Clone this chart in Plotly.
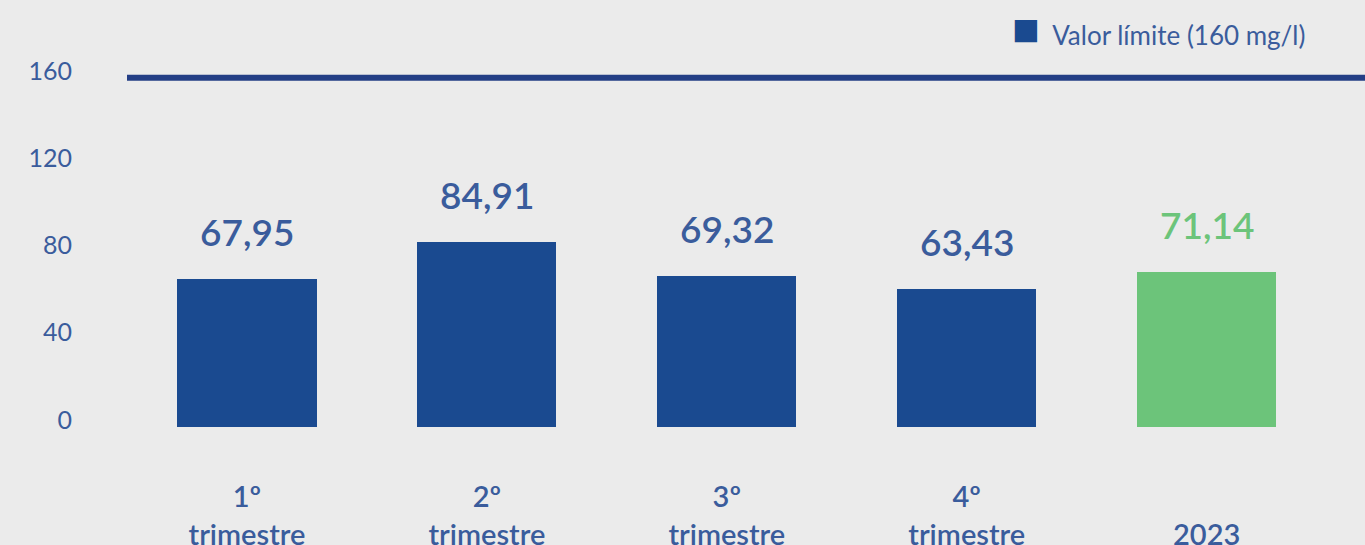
import plotly.graph_objects as go

BG = "#ebebeb"
BLUE = "#1a4a90"
LINE_BLUE = "#233e85"
GREEN = "#6cc47a"
TEXT = "#3a5c9c"

categories = ["1º<br>trimestre", "2º<br>trimestre", "3º<br>trimestre", "4º<br>trimestre", "\u00a0<br>2023"]
values = [67.95, 84.91, 69.32, 63.43, 71.14]
bar_colors = [BLUE, BLUE, BLUE, BLUE, GREEN]
limit_value = 160
limit_name = "Valor límite (160 mg/l)"
y_ticks = [0, 40, 80, 120, 160]

fig = go.Figure()
fig.add_trace(
    go.Bar(
        x=list(range(len(values))),
        y=values,
        width=0.58,
        marker=dict(color=bar_colors, line_width=0),
        showlegend=False,
        hoverinfo="skip",
    )
)
fig.add_hline(y=limit_value, line_width=6, line_color=LINE_BLUE)

# value labels above bars
for i, v in enumerate(values):
    fig.add_annotation(
        x=i,
        y=v,
        text=f"{v:.2f}".replace(".", ","),
        showarrow=False,
        yanchor="bottom",
        yshift=23,
        font=dict(size=37, color=bar_colors[i] if bar_colors[i] == GREEN else TEXT,
                  family="Lato", weight=600),
    )

# legend key, drawn as text so the square can be as large as the original
fig.add_annotation(
    xref="paper",
    yref="paper",
    x=0.953,
    y=1.076,
    xanchor="right",
    yanchor="middle",
    showarrow=False,
    text=f"<span style='color:{BLUE};font-size:46px'>■</span>  {limit_name}",
    font=dict(size=26, color=TEXT, family="Lato"),
)

fig.update_layout(
    template=None,
    paper_bgcolor=BG,
    plot_bgcolor=BG,
    width=1365,
    height=545,
    margin=dict(l=127, r=0, t=56, b=118),
    font=dict(family="Lato", color=TEXT),
    bargap=0,
    showlegend=False,
)
fig.update_xaxes(
    range=[-0.5, 4.66],
    tickvals=list(range(len(categories))),
    ticktext=categories,
    ticks="",
    showgrid=False,
    zeroline=False,
    showline=False,
    tickfont=dict(size=29, color=TEXT, family="Lato", weight=600),
    ticklabelstandoff=50,
)
fig.update_yaxes(
    range=[0, 170],
    tickvals=y_ticks,
    ticks="",
    showgrid=False,
    zeroline=False,
    showline=False,
    tickfont=dict(size=25, color=TEXT, family="Lato"),
    ticklabelstandoff=54,
    ticklabelshift=-7,
)

fig.write_html(
    "out.html",
    config={"displayModeBar": False},
    post_script="document.body.style.margin='0';",
)
